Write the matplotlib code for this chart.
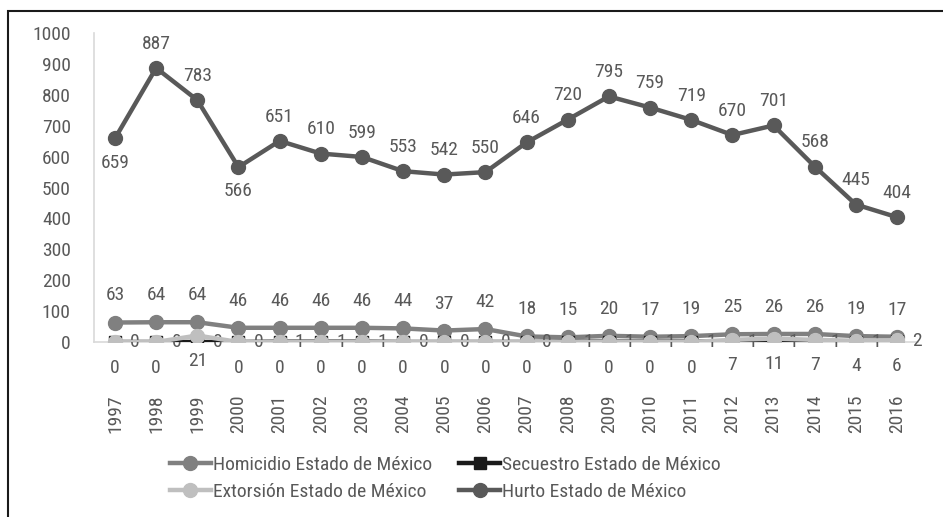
import matplotlib.pyplot as plt
from matplotlib.patches import Rectangle

plt.rcParams['font.family'] = ['Liberation Sans Narrow', 'Roboto Condensed', 'Liberation Sans', 'DejaVu Sans']

years = [str(y) for y in range(1997, 2017)]
homicidio = [63, 64, 64, 46, 46, 46, 46, 44, 37, 42, 18, 15, 20, 17, 19, 25, 26, 26, 19, 17]
secuestro = [0, 0, 0, 0, 1, 1, 1, 0, 0, 0, 0, 1, 1, 1, 1, 1, 1, 1, 1, 2]
extorsion = [0, 0, 21, 0, 0, 0, 0, 0, 0, 0, 0, 0, 0, 0, 0, 7, 11, 7, 4, 6]
hurto = [659, 887, 783, 566, 651, 610, 599, 553, 542, 550, 646, 720, 795, 759, 719, 670, 701, 568, 445, 404]
# hurto labels that sit under the point instead of above
hurto_below = {0, 3}

TXT = '#595959'
FS = 14


def label_series(ax, xs, vals, dx, dy, ha, va):
    for x, v in zip(xs, vals):
        ax.annotate(str(v), (x, v), xytext=(dx, dy), textcoords='offset points',
                    ha=ha, va=va, color=TXT, fontsize=FS)


def main():
    fig = plt.figure(figsize=(9.43, 5.17), dpi=100)
    ax = fig.add_axes([0.1001, 0.3385, 0.873, 0.5975])
    xs = list(range(len(years)))

    ax.plot(xs, homicidio, color='#808080', lw=3.2, marker='o', ms=10,
            label='Homicidio Estado de México', zorder=3)
    ax.plot(xs, secuestro, color='#1a1a1a', lw=3.2, marker='s', ms=8,
            label='Secuestro Estado de México', zorder=4)
    ax.plot(xs, extorsion, color='#bfbfbf', lw=3.2, marker='o', ms=10,
            label='Extorsión Estado de México', zorder=5)
    ax.plot(xs, hurto, color='#595959', lw=3.2, marker='o', ms=10,
            label='Hurto Estado de México', zorder=6)

    label_series(ax, xs, homicidio, 0, 13, 'center', 'bottom')
    label_series(ax, xs, secuestro, 11, 0, 'left', 'center')
    label_series(ax, xs, extorsion, 0, -12, 'center', 'top')
    for i, (x, v) in enumerate(zip(xs, hurto)):
        dy = -11 if i in hurto_below else 11
        ax.annotate(str(v), (x, v), xytext=(0, dy), textcoords='offset points',
                    ha='center', va='top' if dy < 0 else 'bottom', color=TXT, fontsize=FS)

    ax.set_xlim(-0.5, len(years) - 0.5)
    ax.set_ylim(0, 1000)
    ax.set_yticks(range(0, 1001, 100))
    ax.set_xticks(xs)
    ax.set_xticklabels(years, rotation=90)
    ax.tick_params(axis='y', length=0, pad=17, labelcolor=TXT, labelsize=FS)
    ax.tick_params(axis='x', length=0, pad=38, labelcolor=TXT, labelsize=FS)
    for side in ['top', 'right']:
        ax.spines[side].set_visible(False)
    for side in ['left', 'bottom']:
        ax.spines[side].set_color('#d9d9d9')
        ax.spines[side].set_linewidth(1.2)
    ax.spines['bottom'].set_zorder(1)

    # legend reads row-wise in the reference, matplotlib fills by column
    handles, labels = ax.get_legend_handles_labels()
    order = [0, 2, 1, 3]
    fig.legend([handles[i] for i in order], [labels[i] for i in order],
               loc='center left', bbox_to_anchor=(0.17, 0.075), ncol=2,
               frameon=False, fontsize=FS, labelcolor=TXT, handlelength=2.1,
               handletextpad=0.1, columnspacing=1.4, labelspacing=0.45,
               borderpad=0)

    # outer frame, only top and left edges show in the crop
    fig.patches.append(Rectangle((8 / 943, -0.1), 1.2, 1 - 11 / 517 + 0.1,
                                 transform=fig.transFigure, fill=False,
                                 edgecolor='#1a1a1a', lw=1.5))

    fig.savefig('out.png', dpi=100)


if __name__ == '__main__':
    main()
